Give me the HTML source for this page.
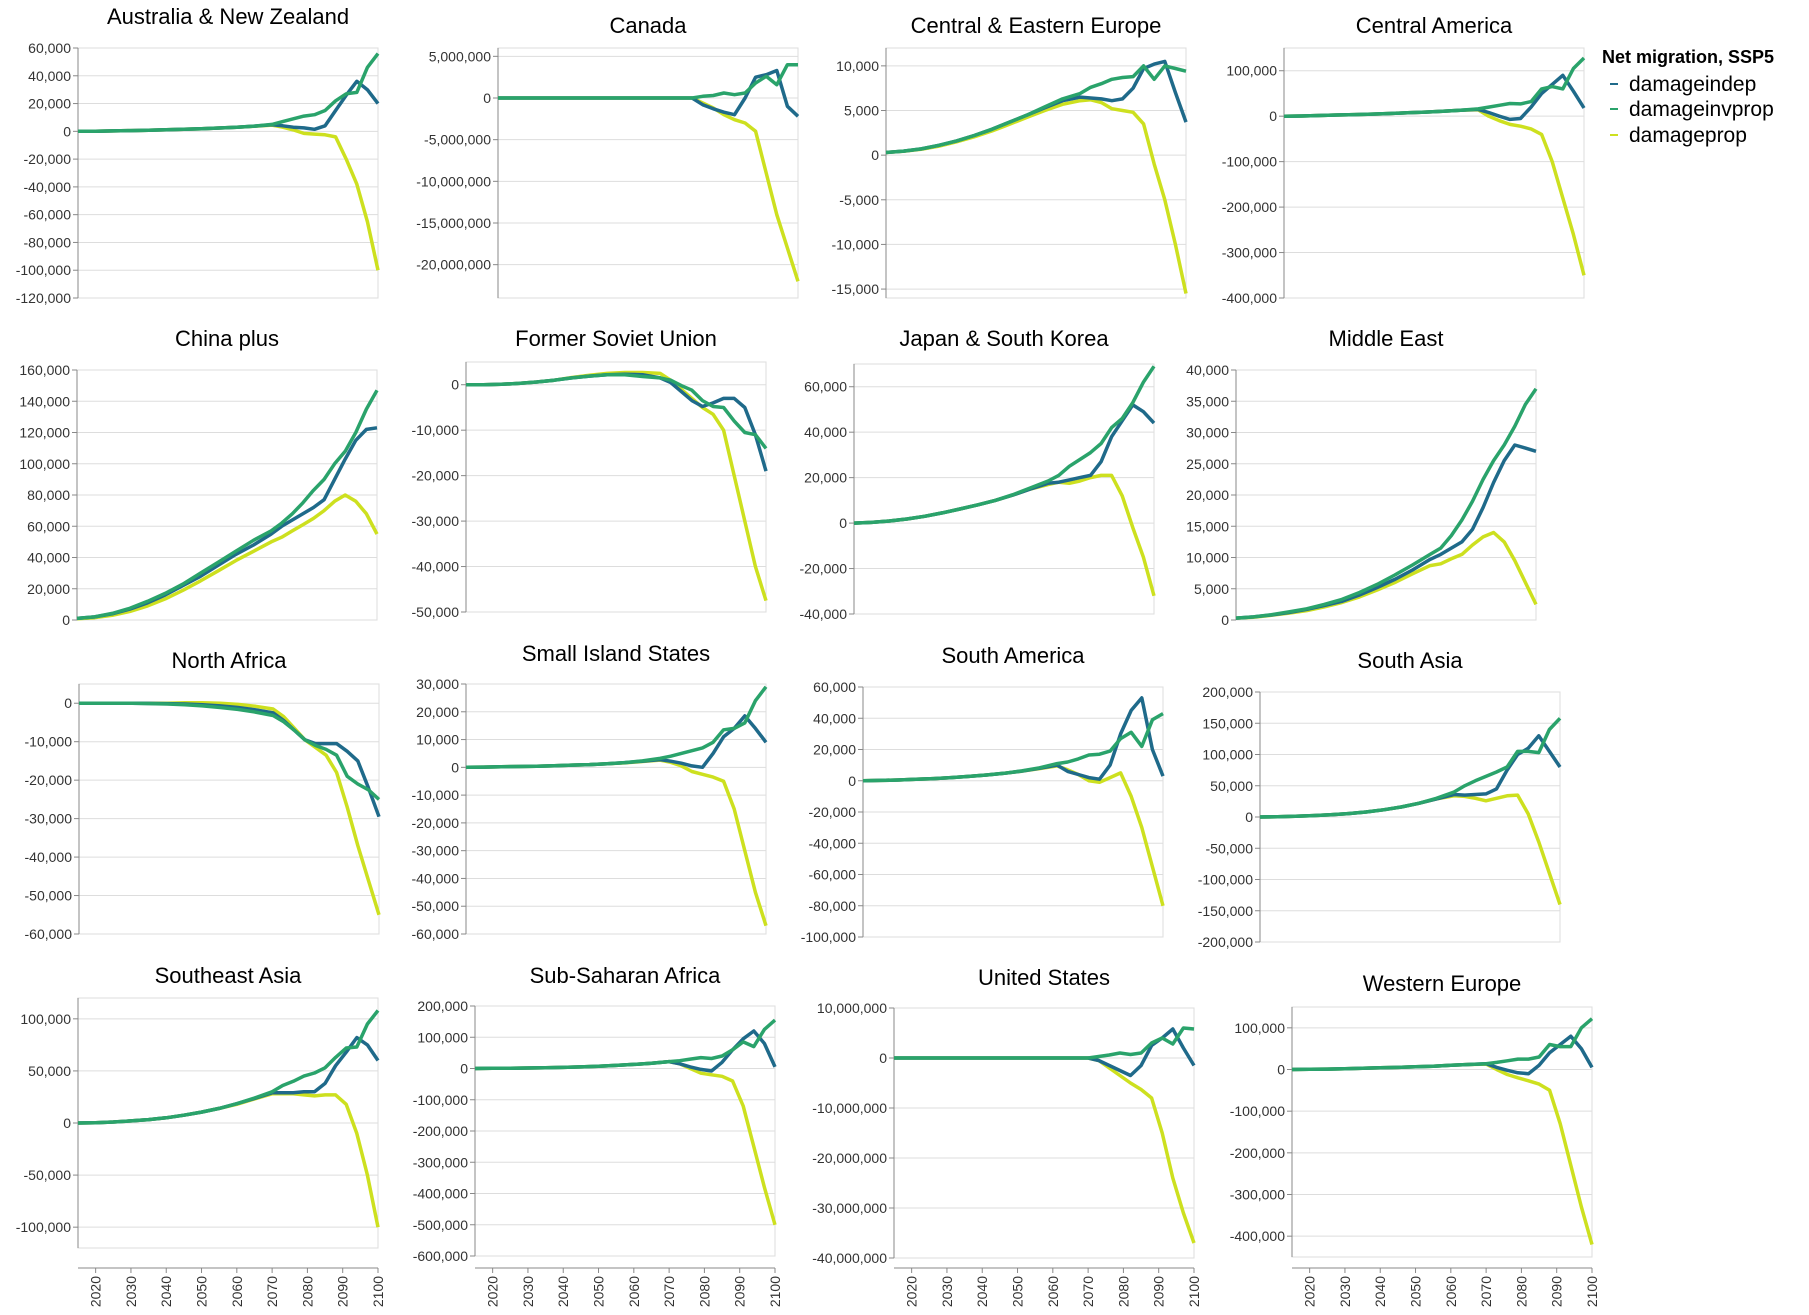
<!DOCTYPE html>
<html><head><meta charset="utf-8">
<style>
html,body{margin:0;padding:0;background:#fff;}
svg{display:block;font-family:"Liberation Sans","DejaVu Sans",sans-serif;}
.tick{font-size:14px;fill:#333;}
.title{font-size:22px;fill:#000;}
</style></head>
<body>
<svg id="chart" width="1809" height="1315" viewBox="0 0 1809 1315" xmlns="http://www.w3.org/2000/svg">
  <g>
    <text x="1602" y="63" style="font-size:18px;font-weight:bold">Net migration, SSP5</text>
    <g><line x1="1610" y1="84" x2="1618" y2="84" stroke="#1f6a8a" stroke-width="2"/><text x="1629" y="91" style="font-size:21px">damageindep</text></g>
    <g><line x1="1610" y1="109" x2="1618" y2="109" stroke="#2aa36b" stroke-width="2"/><text x="1629" y="116" style="font-size:21px">damageinvprop</text></g>
    <g><line x1="1610" y1="135" x2="1618" y2="135" stroke="#cde01f" stroke-width="2"/><text x="1629" y="142" style="font-size:21px">damageprop</text></g>
  </g>
</svg>
<script>
const years = [2015,2020,2025,2030,2035,2040,2045,2050,2055,2060,2065,2070,2073,2076,2079,2082,2085,2088,2091,2094,2097,2100];
const xTicks = [2020,2030,2040,2050,2060,2070,2080,2090,2100];
const seriesNames = ["damageindep","damageinvprop","damageprop"];
const regions = ["Australia & New Zealand","Canada","Central & Eastern Europe","Central America","China plus","Former Soviet Union","Japan & South Korea","Middle East","North Africa","Small Island States","South America","South Asia","Southeast Asia","Sub-Saharan Africa","United States","Western Europe"];

const ausIndep = [0,100,300,500,800,1100,1500,1900,2400,3000,3800,4800,4000,3000,2500,1500,4000,15000,26000,36000,30000,20000];
const ausInvprop = [0,100,300,500,800,1100,1500,1900,2400,3000,3800,5000,7000,9000,11000,12000,15000,22000,27000,28000,46000,56000];
const ausProp = [0,100,300,500,800,1100,1500,1900,2400,3000,3700,4500,3000,1000,-1500,-2000,-2500,-4000,-20000,-38000,-65000,-100000];

const canIndep = [0,0,0,0,0,0,0,0,0,0,0,0,-800000,-1300000,-1700000,-2000000,0,2500000,2800000,3300000,-1000000,-2200000];
const canInvprop = [0,0,0,0,0,0,0,0,0,0,0,0,200000,300000,600000,400000,600000,1800000,2600000,1600000,4000000,4000000];
const canProp = [0,0,0,0,0,0,0,0,0,0,0,0,-600000,-1200000,-2000000,-2600000,-3000000,-4000000,-9000000,-14000000,-18000000,-22000000];

const ceeIndep = [300,450,700,1100,1600,2200,2900,3700,4500,5300,6100,6500,6400,6300,6100,6300,7500,9700,10200,10500,7000,3700];
const ceeInvprop = [300,450,700,1100,1600,2200,2900,3700,4500,5400,6300,6900,7600,8000,8500,8700,8800,10000,8500,10000,9700,9400];
const ceeProp = [300,430,650,1000,1500,2050,2700,3450,4250,5000,5700,6100,6200,5900,5200,5000,4800,3500,-1000,-5000,-10000,-15500];

const camIndep = [0,500,1500,2500,3500,4500,6000,7500,9000,11000,13000,15000,8000,0,-7000,-5000,20000,50000,70000,90000,55000,18000];
const camInvprop = [0,500,1500,2500,3500,4500,6000,7500,9000,11000,13000,16000,20000,24000,28000,27000,32000,60000,65000,60000,105000,128000];
const camProp = [0,500,1500,2500,3500,4500,6000,7500,9000,11000,13000,14000,0,-10000,-18000,-22000,-28000,-40000,-100000,-180000,-260000,-350000];

const chnIndep = [1000,2000,4000,7000,11000,16000,22000,28000,35000,42000,48000,55000,60000,64000,68000,72000,77000,90000,103000,115000,122000,123000];
const chnInvprop = [1000,2000,4200,7500,12000,17000,23000,30000,37000,44000,51000,57000,62000,68000,75000,83000,90000,100000,108000,120000,135000,147000];
const chnProp = [800,1500,3000,5500,9000,13500,19000,25000,31500,38000,44000,50000,53000,57000,61000,65000,70000,76000,80000,76000,68000,55000];

const fsuIndep = [0,0,100,300,600,1000,1500,1900,2200,2300,2200,1500,500,-1500,-3500,-4800,-4000,-3000,-3000,-5000,-11000,-19000];
const fsuInvprop = [0,0,100,300,600,1000,1500,1900,2200,2200,1800,1500,1000,-200,-1200,-3500,-4800,-5000,-8000,-10500,-11000,-14000];
const fsuProp = [0,0,100,300,600,1000,1600,2100,2500,2700,2700,2500,1000,-1000,-3000,-5000,-6500,-10000,-20000,-30000,-40000,-47500];

const jpnIndep = [0,300,900,1800,3000,4500,6200,8000,10000,12300,15000,17500,18000,19000,20000,21000,27000,38000,45000,52000,49000,44000];
const jpnInvprop = [0,300,900,1800,3000,4500,6200,8000,10000,12500,15500,18500,21000,25000,28000,31000,35000,42000,46000,53000,62000,69000];
const jpnProp = [0,300,900,1800,3000,4500,6200,8000,10000,12300,15000,17000,18000,17500,18500,20000,21000,21000,12000,-2000,-15000,-32000];

const meIndep = [300,500,800,1200,1700,2300,3000,4000,5200,6500,8000,9700,10500,11500,12500,14500,18000,22000,25500,28000,27500,27000];
const meInvprop = [300,500,850,1300,1800,2500,3300,4400,5700,7200,8800,10500,11500,13500,16000,19000,22500,25500,28000,31000,34500,37000];
const meProp = [300,450,750,1100,1500,2100,2800,3700,4800,6000,7400,8700,9000,9800,10500,12000,13300,14000,12500,9500,6000,2500];

const nafIndep = [0,0,0,0,-50,-100,-200,-400,-700,-1100,-1700,-2500,-4500,-7000,-9500,-10500,-10500,-10500,-12500,-15000,-22000,-29500];
const nafInvprop = [0,0,0,0,-100,-200,-400,-700,-1100,-1600,-2300,-3200,-4800,-7000,-9500,-11000,-12000,-13500,-19000,-21000,-22500,-25000];
const nafProp = [0,0,0,0,0,0,100,100,0,-300,-800,-1500,-3500,-6500,-9500,-11500,-13500,-18000,-27000,-37000,-46000,-55000];

const sisIndep = [0,100,200,300,400,600,800,1000,1300,1700,2200,2800,2200,1500,500,0,5000,11000,14000,18500,14000,9000];
const sisInvprop = [0,100,200,300,400,600,800,1000,1300,1700,2300,3200,4000,5000,6000,7000,9000,13500,14000,16000,24000,29000];
const sisProp = [0,100,200,300,400,600,800,1000,1300,1600,2100,2600,1800,500,-1500,-2500,-3500,-5000,-15000,-30000,-45000,-57000];

const samIndep = [0,200,500,900,1400,2000,2800,3700,4800,6200,8000,10000,6000,4000,2000,1000,10000,30000,45000,53000,20000,3000];
const samInvprop = [0,200,500,900,1400,2000,2800,3700,4800,6300,8300,11000,12000,14000,16500,17000,19000,27000,31000,22000,39000,43000];
const samProp = [0,200,500,900,1400,2000,2800,3700,4800,6100,7800,9500,7000,4000,0,-1000,2000,5000,-10000,-30000,-55000,-80000];

const sasIndep = [0,500,1200,2200,3500,5500,8000,11500,16000,22000,29000,36000,35000,36000,37000,45000,75000,100000,110000,130000,105000,80000];
const sasInvprop = [0,500,1200,2200,3500,5500,8000,11500,16000,22000,30000,40000,50000,58000,65000,72000,80000,105000,105000,103000,140000,158000];
const sasProp = [0,500,1200,2200,3500,5500,8000,11500,16000,22000,29000,34000,33000,30000,26000,30000,34000,35000,5000,-40000,-90000,-140000];

const seaIndep = [0,300,1000,2000,3300,5000,7500,10500,14000,18500,23500,29000,29000,29000,30000,30000,38000,55000,68000,82000,75000,60000];
const seaInvprop = [0,300,1000,2000,3300,5000,7500,10500,14000,18500,24000,30000,36000,40000,45000,48000,53000,63000,72000,73000,95000,108000];
const seaProp = [0,300,1000,2000,3300,5000,7500,10500,14000,18000,23000,28000,28000,28000,27000,26000,27000,27000,18000,-10000,-50000,-100000];

const ssaIndep = [0,500,1000,1500,2500,3500,5000,7000,10000,13000,17000,22000,15000,5000,-3000,-8000,20000,60000,95000,120000,80000,5000];
const ssaInvprop = [0,500,1000,1500,2500,3500,5000,7000,10000,13000,17000,22000,25000,30000,35000,32000,40000,60000,85000,70000,125000,155000];
const ssaProp = [0,500,1000,1500,2500,3500,5000,7000,10000,13000,17000,22000,15000,0,-15000,-20000,-25000,-40000,-120000,-250000,-380000,-500000];

const usaIndep = [0,0,0,0,0,0,0,0,0,0,0,0,-500000,-1500000,-2500000,-3500000,-1500000,2500000,4000000,5800000,2000000,-1500000];
const usaInvprop = [0,0,0,0,0,0,0,0,0,0,0,0,300000,600000,1000000,700000,1000000,3000000,4000000,2800000,6000000,5800000];
const usaProp = [0,0,0,0,0,0,0,0,0,0,0,0,-500000,-2000000,-3500000,-5000000,-6300000,-8000000,-15000000,-24000000,-31000000,-37000000];

const weuIndep = [0,500,1000,2000,3000,4000,5000,6500,8000,10000,12000,14000,5000,-2000,-8000,-10000,10000,40000,60000,80000,50000,5000];
const weuInvprop = [0,500,1000,2000,3000,4000,5000,6500,8000,10000,12000,14000,17000,21000,25000,25000,30000,60000,55000,55000,100000,122000];
const weuProp = [0,500,1000,2000,3000,4000,5000,6500,8000,10000,12000,13000,0,-12000,-20000,-27000,-35000,-50000,-130000,-230000,-330000,-420000];

const ausTicks = [-120000,-100000,-80000,-60000,-40000,-20000,0,20000,40000,60000];
const canTicks = [-20000000,-15000000,-10000000,-5000000,0,5000000];
const ceeTicks = [-15000,-10000,-5000,0,5000,10000];
const camTicks = [-400000,-300000,-200000,-100000,0,100000];
const chnTicks = [0,20000,40000,60000,80000,100000,120000,140000,160000];
const fsuTicks = [-50000,-40000,-30000,-20000,-10000,0];
const jpnTicks = [-40000,-20000,0,20000,40000,60000];
const meTicks = [0,5000,10000,15000,20000,25000,30000,35000,40000];
const nafTicks = [-60000,-50000,-40000,-30000,-20000,-10000,0];
const sisTicks = [-60000,-50000,-40000,-30000,-20000,-10000,0,10000,20000,30000];
const samTicks = [-100000,-80000,-60000,-40000,-20000,0,20000,40000,60000];
const sasTicks = [-200000,-150000,-100000,-50000,0,50000,100000,150000,200000];
const seaTicks = [-100000,-50000,0,50000,100000];
const ssaTicks = [-600000,-500000,-400000,-300000,-200000,-100000,0,100000,200000];
const usaTicks = [-40000000,-30000000,-20000000,-10000000,0,10000000];
const weuTicks = [-400000,-300000,-200000,-100000,0,100000];

const ausDomain = [-120000,60000];
const canDomain = [-24000000,6000000];
const ceeDomain = [-16000,12000];
const camDomain = [-400000,150000];
const chnDomain = [0,160000];
const fsuDomain = [-50000,5000];
const jpnDomain = [-40000,70000];
const meDomain = [0,40000];
const nafDomain = [-60000,5000];
const sisDomain = [-60000,30000];
const samDomain = [-100000,60000];
const sasDomain = [-200000,200000];
const seaDomain = [-120000,120000];
const ssaDomain = [-600000,200000];
const usaDomain = [-40000000,10000000];
const weuDomain = [-450000,150000];

const panelData = [
 [ausIndep,ausInvprop,ausProp,ausTicks,ausDomain],
 [canIndep,canInvprop,canProp,canTicks,canDomain],
 [ceeIndep,ceeInvprop,ceeProp,ceeTicks,ceeDomain],
 [camIndep,camInvprop,camProp,camTicks,camDomain],
 [chnIndep,chnInvprop,chnProp,chnTicks,chnDomain],
 [fsuIndep,fsuInvprop,fsuProp,fsuTicks,fsuDomain],
 [jpnIndep,jpnInvprop,jpnProp,jpnTicks,jpnDomain],
 [meIndep,meInvprop,meProp,meTicks,meDomain],
 [nafIndep,nafInvprop,nafProp,nafTicks,nafDomain],
 [sisIndep,sisInvprop,sisProp,sisTicks,sisDomain],
 [samIndep,samInvprop,samProp,samTicks,samDomain],
 [sasIndep,sasInvprop,sasProp,sasTicks,sasDomain],
 [seaIndep,seaInvprop,seaProp,seaTicks,seaDomain],
 [ssaIndep,ssaInvprop,ssaProp,ssaTicks,ssaDomain],
 [usaIndep,usaInvprop,usaProp,usaTicks,usaDomain],
 [weuIndep,weuInvprop,weuProp,weuTicks,weuDomain]
];

// layout: plot left, plot top, title center y
const layout = [
 {l:78,t:48,ty:16},{l:498,t:48,ty:25},{l:886,t:48,ty:25},{l:1284,t:48,ty:25},
 {l:77,t:370,ty:338},{l:466,t:362,ty:338},{l:854,t:364,ty:338},{l:1236,t:370,ty:338},
 {l:79,t:684,ty:660},{l:466,t:684,ty:653},{l:863,t:687,ty:655},{l:1260,t:692,ty:660},
 {l:78,t:998,ty:975},{l:475,t:1006,ty:975},{l:894,t:1008,ty:977},{l:1292,t:1007,ty:983}
];
const W = 300, H = 250;
const colors = ["#1f6a8a","#2aa36b","#cde01f"];
const drawOrder = [2,0,1];
const NS = "http://www.w3.org/2000/svg";
const svg = document.getElementById('chart');
function mk(tag, attrs, parent){
  const e = document.createElementNS(NS, tag);
  for (const k in attrs) e.setAttribute(k, attrs[k]);
  parent.appendChild(e);
  return e;
}
const fmt = v => v.toLocaleString('en-US');

panelData.forEach((pd, i) => {
  const L = layout[i];
  const dom = pd[4];
  const xs = yr => L.l + (yr - 2015) / (2100 - 2015) * W;
  const ys = v => L.t + (dom[1] - v) / (dom[1] - dom[0]) * H;
  const g = mk('g', {}, svg);
  
  
  const title = mk('text', {x: L.l + W/2, y: L.ty + 8, 'text-anchor':'middle', class:'title'}, g);
  title.textContent = regions[i];
  
  
  const bg = mk('rect', {x:L.l, y:L.t, width:W, height:H, fill:'none', stroke:'#ddd', 'stroke-width':1}, g);
  
  
  const yAxis = mk('g', {}, g);
  
  
  pd[3].forEach(t => {
    const y = ys(t);
    mk('line', {x1:L.l, x2:L.l+W, y1:y, y2:y, stroke:'#ddd', 'stroke-width':1}, yAxis);
    mk('line', {x1:L.l-5, x2:L.l, y1:y, y2:y, stroke:'#888', 'stroke-width':1}, yAxis);
    const tx = mk('text', {x:L.l-7, y:y+5, 'text-anchor':'end', class:'tick'}, yAxis);
    tx.textContent = fmt(t);
    
    
  });
  mk('line', {x1:L.l, x2:L.l, y1:L.t, y2:L.t+H, stroke:'#888', 'stroke-width':1}, yAxis);
  drawOrder.forEach(s => {
    const vals = pd[s];
    const d = vals.map((v, k) => (k ? 'L' : 'M') + xs(years[k]).toFixed(1) + ',' + ys(v).toFixed(1)).join(' ');
    const p = mk('path', {d:d, fill:'none', stroke:colors[s], 'stroke-width':3.5, 'stroke-linejoin':'round'}, g);
    
    
  });
  if (i >= 12) {
    const ax = mk('g', {}, g);
    
    
    const ay = 1268;
    mk('line', {x1:L.l, x2:L.l+W, y1:ay, y2:ay, stroke:'#888', 'stroke-width':1}, ax);
    xTicks.forEach(yr => {
      const x = xs(yr);
      mk('line', {x1:x, x2:x, y1:ay, y2:ay+5, stroke:'#888', 'stroke-width':1}, ax);
      const tx = mk('text', {x:0, y:0, 'text-anchor':'end', class:'tick', transform:'translate(' + (x+5) + ',' + (ay+8) + ') rotate(-90)'}, ax);
      tx.textContent = yr;
      
      
    });
  }
});
</script>
</body></html>
